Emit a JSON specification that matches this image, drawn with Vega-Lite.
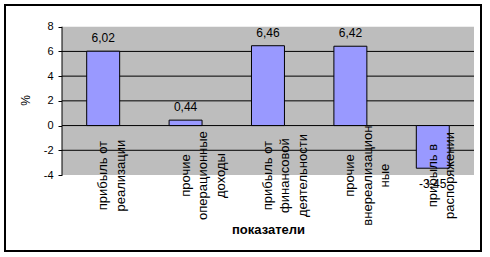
{
  "$schema": "https://vega.github.io/schema/vega-lite/v6.json",
  "width": 476,
  "height": 246,
  "autosize": {"type": "none"},
  "padding": {"left": 5, "top": 5, "right": 9, "bottom": 6},
  "background": "white",
  "config": {
    "locale": {"number": {"decimal": ",", "thousands": " ", "grouping": [3], "currency": ["", ""], "minus": "-"}},
    "view": {"fill": "white", "stroke": "black", "strokeWidth": 2},
    "axis": {"grid": false, "domain": false, "labelFont": "Liberation Sans", "titleFont": "Liberation Sans", "tickColor": "black", "labelColor": "black", "titleColor": "black", "tickWidth": 1},
    "text": {"font": "Liberation Sans", "color": "black"}
  },
  "resolve": {"scale": {"x": "independent"}, "axis": {"x": "independent"}},
  "layer": [
    {
      "layer": [
        {
          "data": {"values": [{}]},
          "mark": {"type": "rect", "fill": "#BDBDBD"},
          "encoding": {
            "x": {"datum": 0, "type": "quantitative", "scale": {"domain": [-0.13835, 1.01699], "nice": false, "zero": false},
                  "axis": {"values": [0.2, 0.4, 0.6, 0.8], "offset": -125.4, "tickSize": 5, "labels": false, "domain": false, "grid": false,
                           "title": "показатели", "titleFontSize": 13, "titleFontWeight": "bold", "titleX": 263, "titleY": 108, "titleBaseline": "alphabetic"}},
            "x2": {"datum": 1},
            "y": {"datum": 8, "type": "quantitative", "scale": {"domain": [-10.149, 9.756], "nice": false, "zero": false},
                  "axis": {"values": [-4, -2, 0, 2, 4, 6, 8], "offset": -57, "tickSize": 4, "labelPadding": 5, "labelFontSize": 11,
                           "title": "%", "titleFontSize": 12, "titleFontWeight": "normal", "titleX": -36.3, "titleY": 95, "titleBaseline": "middle"}},
            "y2": {"datum": -4}
          }
        },
        {
          "data": {"values": [{}]},
          "mark": {"type": "rule", "color": "black", "strokeWidth": 1},
          "encoding": {"x": {"datum": 0, "type": "quantitative"}, "x2": {"datum": 1}, "y": {"datum": 6, "type": "quantitative"}}
        },
        {
          "data": {"values": [{}]},
          "mark": {"type": "rule", "color": "black", "strokeWidth": 1},
          "encoding": {"x": {"datum": 0, "type": "quantitative"}, "x2": {"datum": 1}, "y": {"datum": 4, "type": "quantitative"}}
        },
        {
          "data": {"values": [{}]},
          "mark": {"type": "rule", "color": "black", "strokeWidth": 1},
          "encoding": {"x": {"datum": 0, "type": "quantitative"}, "x2": {"datum": 1}, "y": {"datum": 2, "type": "quantitative"}}
        },
        {
          "data": {"values": [{}]},
          "mark": {"type": "rule", "color": "black", "strokeWidth": 1},
          "encoding": {"x": {"datum": 0, "type": "quantitative"}, "x2": {"datum": 1}, "y": {"datum": -2, "type": "quantitative"}}
        },
        {
          "data": {"values": [{}]},
          "mark": {"type": "rule", "color": "black", "strokeWidth": 1},
          "encoding": {"x": {"datum": 0, "type": "quantitative"}, "x2": {"datum": 1}, "y": {"datum": 0, "type": "quantitative"}}
        },
        {
          "data": {"values": [{}]},
          "mark": {"type": "rule", "color": "black", "strokeWidth": 1},
          "encoding": {"x": {"datum": 0, "type": "quantitative"}, "y": {"datum": -4, "type": "quantitative"}, "y2": {"datum": 8}}
        }
      ]
    },
    {
      "data": {"values": [
        {"показатель": "прибыль от\nреализации", "значение": 6.02},
        {"показатель": "прочие\nоперационные\nдоходы", "значение": 0.44},
        {"показатель": "прибыль от\nфинансовой\nдеятельности", "значение": 6.46},
        {"показатель": "прочие\nвнереализацион\nные", "значение": 6.42},
        {"показатель": "прибыль в\nраспоряжении", "значение": -3.45}
      ]},
      "encoding": {
        "x": {"field": "показатель", "type": "nominal", "sort": null, "axis": null,
              "scale": {"paddingInner": 0.6, "paddingOuter": 0.68835, "align": 0.7202, "round": false}}
      },
      "layer": [
        {
          "mark": {"type": "bar", "fill": "#9999FF", "stroke": "black", "strokeWidth": 1},
          "encoding": {"y": {"field": "значение", "type": "quantitative"}, "y2": {"datum": 0}}
        },
        {
          "transform": [{"filter": "datum['значение'] >= 0"}],
          "mark": {"type": "text", "fontSize": 12, "baseline": "alphabetic", "dy": -9},
          "encoding": {"y": {"field": "значение", "type": "quantitative"}, "text": {"field": "значение", "type": "quantitative", "format": ".2f"}}
        },
        {
          "transform": [{"filter": "datum['значение'] < 0"}],
          "mark": {"type": "text", "fontSize": 12, "baseline": "alphabetic", "dy": 20},
          "encoding": {"y": {"field": "значение", "type": "quantitative"}, "text": {"field": "значение", "type": "quantitative", "format": ".2f"}}
        },
        {
          "mark": {"type": "text", "fontSize": 13, "angle": 270, "align": "center", "baseline": "middle", "dx": -50, "lineBreak": "\n", "lineHeight": 17.5},
          "encoding": {"y": {"datum": 0, "type": "quantitative"}, "text": {"field": "показатель", "type": "nominal"}}
        }
      ]
    }
  ]
}
